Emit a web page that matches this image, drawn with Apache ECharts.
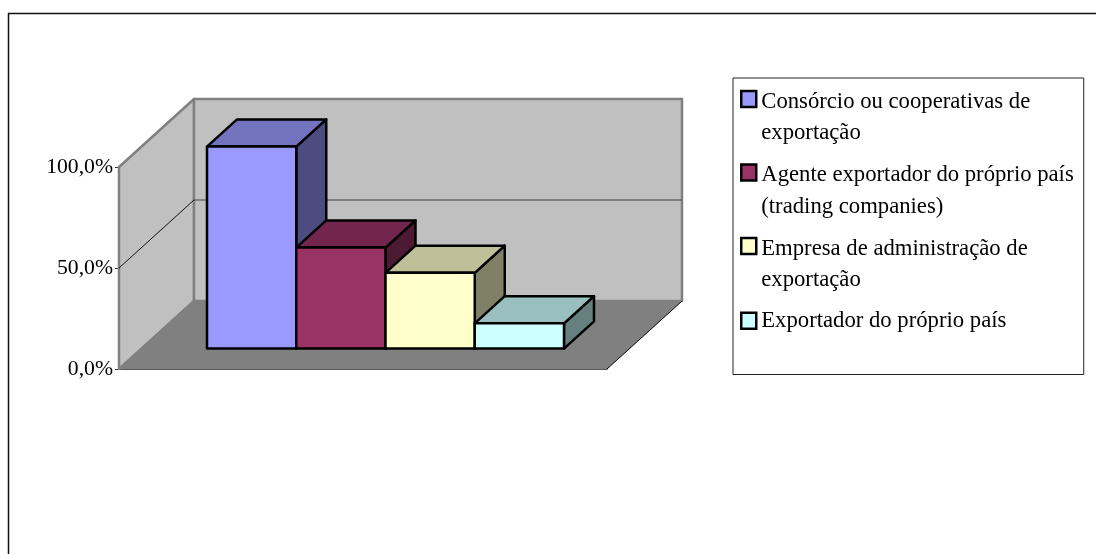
<!DOCTYPE html>
<html><head><meta charset="utf-8">
<style>html,body{margin:0;padding:0;background:#fff}#c{width:1096px;height:554px}</style>
<script src="https://cdn.jsdelivr.net/npm/echarts@6/dist/echarts.min.js"></script>
</head><body><div id="c"></div>
<script>
const categories = [''];
const seriesNames = [
  'Consórcio ou cooperativas de\nexportação',
  'Agente exportador do próprio país\n(trading companies)',
  'Empresa de administração de\nexportação',
  'Exportador do próprio país'
];
const seriesValues = [100, 50, 37.5, 12.5];
const frontColors = ['#9999FF', '#993366', '#FFFFCC', '#CCFFFF'];
const topColors = ['#7373BF', '#73264D', '#BFBF99', '#99BFBF'];
const sideColors = ['#4C4C80', '#4C1A33', '#808066', '#668080'];
const yTicks = [0, 50, 100];
const FONT = '"Liberation Serif","Times New Roman",serif';

// projected depth of the floor, and the slice of it that the bars stand on
const DX = 75, DY = -68, D0 = 0.3, D1 = 0.7, BAR_SHARE = 357 / 488;

function poly(points, fill, stroke, lw, z2) {
  return { type: 'polygon', z2: z2 || 0, shape: { points: points },
    style: { fill: fill, stroke: stroke || 'none', lineWidth: lw || 0, lineJoin: 'round' } };
}
function seg(a, b, stroke, lw) {
  return { type: 'line', shape: { x1: a[0], y1: a[1], x2: b[0], y2: b[1] },
    style: { stroke: stroke, lineWidth: lw, fill: 'none' } };
}
function renderWalls(params, api) {
  const band = api.size([1, 0])[0];
  const cx = api.coord([0, 0])[0];
  const x0 = cx - band / 2, x1 = cx + band / 2;
  const yB = api.coord([0, 0])[1], yT = api.coord([0, yTicks[yTicks.length - 1]])[1];
  const W = '#C0C0C0', G = '#808080';
  const kids = [
    poly([[x0 + DX, yB + DY], [x1 + DX, yB + DY], [x1, yB], [x0, yB]], G),
    poly([[x0, yT], [x0 + DX, yT + DY], [x0 + DX, yB + DY], [x0, yB]], W, G, 2.5),
    poly([[x0 + DX, yT + DY], [x1 + DX, yT + DY], [x1 + DX, yB + DY], [x0 + DX, yB + DY]], W, G, 2.5)
  ];
  yTicks.slice(1, -1).forEach(function (t) {
    const y = api.coord([0, t])[1];
    kids.push(seg([x0, y], [x0 + DX, y + DY], '#111', 1));
    kids.push(seg([x0 + DX, y + DY], [x1 + DX, y + DY], '#404040', 1));
  });
  kids.push(seg([x1, yB], [x1 + DX, yB + DY], '#000', 1));
  return { type: 'group', children: kids };
}
function renderBar(idx) {
  return function (params, api) {
    const band = api.size([1, 0])[0];
    const base = api.coord([0, 0]);
    const top = api.coord([0, api.value(1)]);
    const bw = band * BAR_SHARE / seriesValues.length;
    const left = base[0] - band * BAR_SHARE / 2 + idx * bw + DX * D0;
    const right = left + bw;
    const yb = base[1] + DY * D0, yt = top[1] + DY * D0;
    const ox = DX * (D1 - D0), oy = DY * (D1 - D0);
    const k = '#000', lw = 2.5;
    return { type: 'group', children: [
      poly([[right, yt], [right + ox, yt + oy], [right + ox, yb + oy], [right, yb]], sideColors[idx], k, lw),
      poly([[left, yt], [left + ox, yt + oy], [right + ox, yt + oy], [right, yt]], topColors[idx], k, lw),
      poly([[left, yt], [right, yt], [right, yb], [left, yb]], frontColors[idx], k, lw)
    ] };
  };
}
const legendIconTall = 'path://M0 0H15V16H0Z M0 53L0.01 53';
const legendIconShort = 'path://M0 0H15V16H0Z';
function legendItem(i, icon) {
  return { name: seriesNames[i], icon: icon,
    itemStyle: { color: frontColors[i], borderColor: '#000', borderWidth: 2.5 } };
}
const legendText = { fontFamily: FONT, fontSize: 22.7, color: '#000', lineHeight: 31.5 };
const option = {
  animation: false,
  backgroundColor: '#fff',
  grid: { left: 119, top: 167, width: 488, height: 202 },
  xAxis: { type: 'category', data: categories,
    axisLine: { show: true, lineStyle: { color: '#222', width: 1.5 } },
    axisTick: { show: false }, axisLabel: { show: false }, splitLine: { show: false } },
  yAxis: { type: 'value', min: 0, max: 100, interval: 50,
    axisLine: { show: true, lineStyle: { color: '#333', width: 1.5 } },
    axisTick: { show: true, length: 4, lineStyle: { color: '#333' } },
    splitLine: { show: false },
    axisLabel: { margin: 6, fontFamily: FONT, fontSize: 21.7, color: '#000', padding: [3, 0, 0, 0],
      formatter: function (v) { return v.toFixed(1).replace('.', ',') + '%'; } } },
  legend: [
    { orient: 'vertical', left: 733, top: 78, itemGap: 10.5, itemWidth: 15, itemHeight: 53,
      padding: [8, 10, 78.5, 7], selectedMode: false,
      backgroundColor: '#fff', borderColor: '#222', borderWidth: 1, z: 5,
      textStyle: legendText,
      data: [0, 1, 2].map(function (i) { return legendItem(i, legendIconTall); }) },
    { orient: 'vertical', left: 740, top: 305, padding: 0, itemWidth: 15, itemHeight: 16,
      selectedMode: false, z: 6, textStyle: legendText,
      data: [legendItem(3, legendIconShort)] }
  ],
  graphic: [
    { type: 'line', silent: true, shape: { x1: 8.5, y1: 13, x2: 8.5, y2: 554 }, style: { stroke: '#111', lineWidth: 1.5 } },
    { type: 'line', silent: true, shape: { x1: 8, y1: 13.5, x2: 1096, y2: 13.5 }, style: { stroke: '#111', lineWidth: 1.5 } }
  ],
  series: [
    { type: 'custom', name: 'walls', silent: true, clip: false, z: 1,
      renderItem: renderWalls, data: [[0, yTicks[yTicks.length - 1]]] }
  ].concat(seriesNames.map(function (n, i) {
    return { type: 'custom', name: n, clip: false, z: 3,
      renderItem: renderBar(i), encode: { x: 0, y: 1 }, data: [[0, seriesValues[i]]] };
  }))
};
echarts.init(document.getElementById('c'), null, { renderer: 'canvas' }).setOption(option);
</script></body></html>
